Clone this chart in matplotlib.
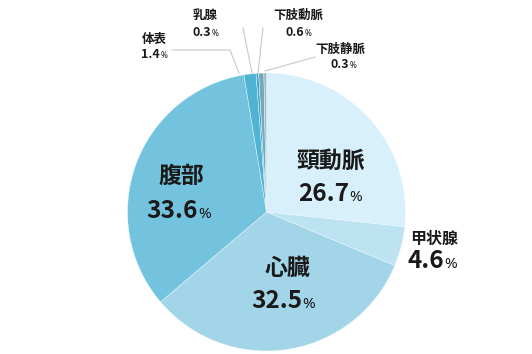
import matplotlib
matplotlib.use("Agg")
import matplotlib.pyplot as plt

plt.rcParams['font.family'] = ['Noto Sans CJK JP', 'DejaVu Sans']

# ---- data ----
categories = ["頸動脈", "甲状腺", "心臓", "腹部", "体表", "乳腺", "下肢動脈", "下肢静脈"]
values = [26.7, 4.6, 32.5, 33.6, 1.4, 0.3, 0.6, 0.3]
colors = ["#d8f0fb", "#bde3f2", "#a3d5e9", "#73c3de", "#4fb4d4", "#3fa6c8", "#72aabb", "#9cb8c3"]

# ---- layout (pixel coordinates of the 532x354 image) ----
W, H = 532, 354
center = (266.5, 212)
radius = 139
# (name center x, name center y, split x, number baseline y, name size, num size, pct size)
label_pos = [
    (331, 161, 350, 201, 16.5, 17.5, 11),
    (434, 239, 445, 268, 11.5, 17.5, 11),
    (287.5, 268, 303, 308, 16.5, 17.5, 11),
    (181.5, 176, 199, 218, 16.5, 17.5, 11),
    (154, 39, 161, 58, 9, 9, 6),
    (205, 15, 212, 36, 9, 9, 6),
    (298.5, 15, 305, 36, 9, 9, 6),
    (340, 49, 350, 68, 9, 9, 6),
]
leaders = {
    4: [(172, 50), (230, 50), (239, 73)],
    5: [(243, 28), (252, 73)],
    6: [(263, 28), (258, 73)],
    7: [(315, 57), (265, 71)],
}

def Y(py):
    return H - py

fig = plt.figure(figsize=(W / 100, H / 100), dpi=100)
ax = fig.add_axes([0, 0, 1, 1])

ax.pie(values, colors=colors, startangle=90, counterclock=False,
       center=(center[0], Y(center[1])), radius=radius,
       wedgeprops=dict(edgecolor='#f4fbfe', linewidth=0.3))
ax.set_xlim(0, W)
ax.set_ylim(0, H)
ax.set_aspect('equal')
ax.axis('off')

for i, (name, val) in enumerate(zip(categories, values)):
    nx, ny, sx, by, ns, vs, ps = label_pos[i]
    ax.text(nx, Y(ny), name, ha='center', va='center', fontsize=ns,
            fontweight='bold', color='#1a1a1a')
    ax.text(sx - 1, Y(by), f"{val:.1f}", ha='right', va='baseline', fontsize=vs,
            fontweight='bold', color='#1a1a1a')
    ax.text(sx - 0.8, Y(by), "%", ha='left', va='baseline', fontsize=ps,
            family=['Noto Sans', 'DejaVu Sans'], fontweight='medium',
            color='#1a1a1a')

for i, pts in leaders.items():
    xs = [p[0] for p in pts]
    ys = [Y(p[1]) for p in pts]
    ax.plot(xs, ys, color='#c8c8c8', linewidth=0.8, zorder=0.5)

fig.savefig("out.png", dpi=100)
